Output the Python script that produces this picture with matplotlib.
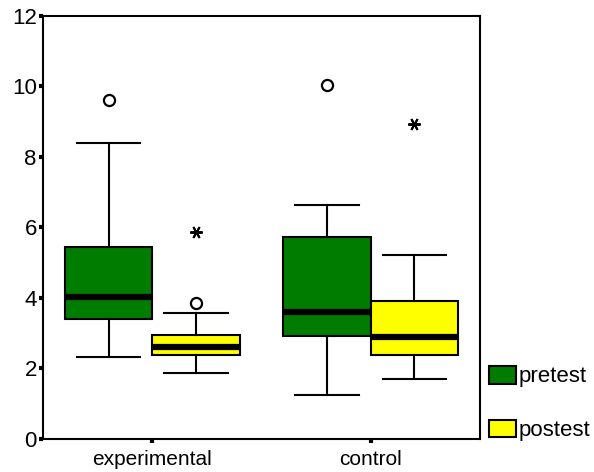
import matplotlib
matplotlib.use("Agg")
import matplotlib.pyplot as plt
from matplotlib.patches import Patch

# Data ------------------------------------------------------------------------

groups = ["experimental", "control"]
series = ["pretest", "postest"]
colours = ["#007c00", "#ffff00"]

# five-number summaries, per group: [pretest, postest]
whis_lo = [[2.33, 1.87], [1.25, 1.70]]
q1 = [[3.40, 2.38], [2.91, 2.38]]
median = [[4.03, 2.62], [3.59, 2.90]]
q3 = [[5.44, 2.94], [5.71, 3.90]]
whis_hi = [[8.38, 3.57], [6.62, 5.21]]

# outliers (circles) and extremes (stars)
outliers = [[[9.62], [3.85]], [[10.02], []]]
extremes = [[[], [5.88]], [[], [8.94]]]

# Plot ------------------------------------------------------------------------

plt.rcParams["font.family"] = ["Liberation Sans", "DejaVu Sans"]

fig = plt.figure(figsize=(5.94, 4.72), dpi=100)
ax = fig.add_axes([0.0724, 0.070, 0.7356, 0.897])

offset = 0.2
width = 0.4

for g in range(len(groups)):
    for s in range(len(series)):
        pos = g + 1 + (offset if s else -offset)
        stats = [{"med": median[g][s], "q1": q1[g][s], "q3": q3[g][s],
                  "whislo": whis_lo[g][s], "whishi": whis_hi[g][s],
                  "fliers": []}]
        ax.bxp(stats, positions=[pos], widths=width, patch_artist=True,
               showfliers=False, manage_ticks=False,
               boxprops=dict(facecolor=colours[s], edgecolor="black", linewidth=1.5),
               medianprops=dict(color="black", linewidth=4.5, solid_capstyle="butt"),
               whiskerprops=dict(color="black", linewidth=1.5),
               capprops=dict(color="black", linewidth=1.5),
               capwidths=0.29)
        if outliers[g][s]:
            ax.plot([pos] * len(outliers[g][s]), outliers[g][s], "o", ms=8,
                    mfc="white", mec="black", mew=1.6, zorder=5)
        if extremes[g][s]:
            ax.plot([pos] * len(extremes[g][s]), extremes[g][s], marker=(6, 2, 90),
                    ms=9, color="black", mew=1.4, ls="none", zorder=5)

ax.set_xlim(0.5, 2.5)
ax.set_ylim(0, 12)
ax.set_xticks([1, 2])
ax.set_xticklabels(groups)
ax.set_yticks(range(0, 13, 2))

for sp in ax.spines.values():
    sp.set_linewidth(1.5)
ax.tick_params(axis="both", length=3, width=3, direction="out")
ax.tick_params(axis="x", labelsize=15, pad=5)
ax.tick_params(axis="y", labelsize=16, pad=1.5)

handles = [Patch(facecolor=c, edgecolor="black", linewidth=1.5) for c in colours]
fig.legend(handles, series, loc="upper left", bbox_to_anchor=(0.823, 0.225),
           frameon=False, fontsize=16, handlelength=1.2, handleheight=0.85,
           handletextpad=0.15, labelspacing=1.45, borderpad=0, borderaxespad=0)

fig.savefig("out.png", dpi=100)
